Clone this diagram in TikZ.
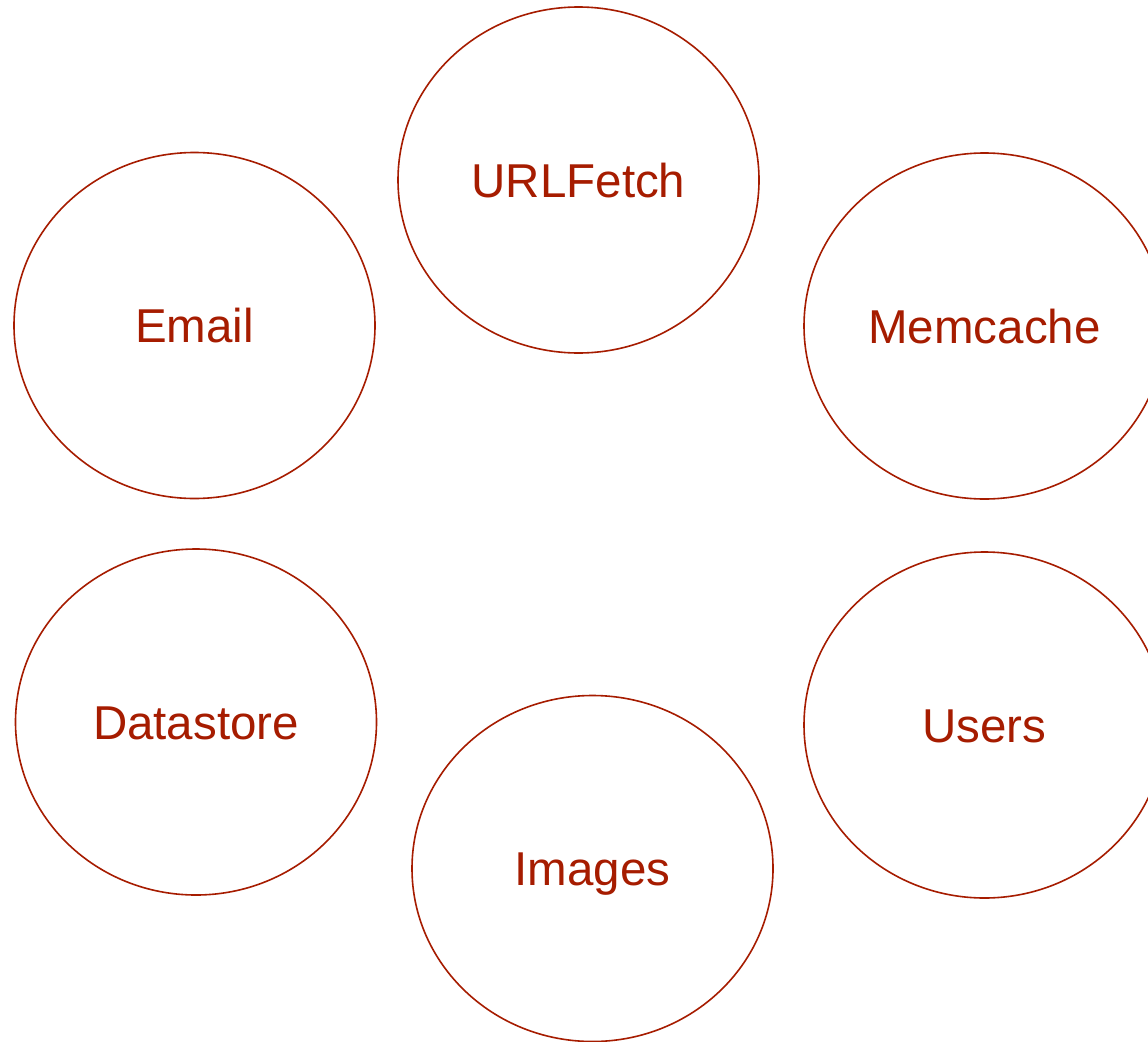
\documentclass[tikz,border=0pt]{standalone}
\usepackage{fontspec}
\setmainfont{Liberation Sans}
\usetikzlibrary{shapes.geometric}
\definecolor{berry}{RGB}{166,28,0}
\begin{document}
\begin{tikzpicture}[x=1pt,y=-1pt,
  service/.style={ellipse, draw=berry, line width=1.6pt, text=berry,
    minimum width=361pt, minimum height=346pt, inner sep=0pt,
    font=\fontsize{47.5pt}{50pt}\selectfont, text height=34pt, text depth=0pt}]
  \useasboundingbox (0,0) rectangle (1148,1041);
  \clip (0,0) rectangle (1148,1041);
  \fill[white] (0,0) rectangle (1148,1041);
  \node[service] (urlfetch)  at (578.5,180)   {URLFetch};
  \node[service] (email)     at (194.5,325.5) {Email};
  \node[service] (memcache)  at (984.5,326)   {Memcache};
  \node[service] (datastore) at (196,722)     {Datastore};
  \node[service] (images)    at (592.5,868.5) {Images};
  \node[service] (users)     at (984.5,725)   {Users};
\end{tikzpicture}
\end{document}
